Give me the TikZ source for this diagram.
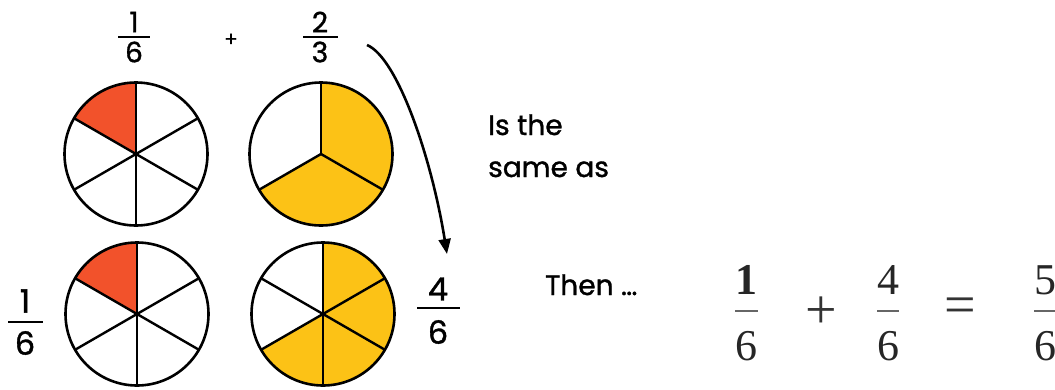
\documentclass[tikz,border=0pt]{standalone}
\usepackage{fontspec}
\setmainfont{Poppins}
\newfontfamily\comicfont{Poppins}[FakeBold=1.2]
\newfontfamily\eqfont{Liberation Serif}
\usetikzlibrary{arrows.meta}
\definecolor{pieRed}{HTML}{F2522B}
\definecolor{pieYel}{HTML}{FCC216}
\newcommand\pieSector[4]{\fill[#1] (#2) -- ++(#3:71.5pt) arc[start angle=#3,end angle=#4,radius=71.5pt] -- cycle;}
\begin{document}
\begin{tikzpicture}[x=1pt,y=-1pt,
  pie/.style={circle,draw=black,line width=2.6pt,minimum size=143pt,inner sep=0pt,outer sep=0pt},
  spoke/.style={line width=2.4pt,line cap=round},
  digS/.style={inner sep=0pt,font=\comicfont\fontsize{28}{30}\selectfont},
  digL/.style={inner sep=0pt,font=\comicfont\fontsize{32}{36}\selectfont},
  digM/.style={inner sep=0pt,font=\eqfont\fontsize{44}{50}\selectfont,text=black!85},
  opM/.style={inner sep=0pt,font=\eqfont\fontsize{56}{60}\selectfont,text=black!80},
  cbar/.style={line width=2.4pt},
  mbar/.style={line width=1.3pt,draw=black!60},
  comic/.style={inner sep=0pt,anchor=base west,font=\comicfont\fontsize{28}{30}\selectfont},
  flow/.style={line width=2.6pt,-{Triangle[length=15pt,width=12pt]}}
]
\useasboundingbox (0,0) rectangle (1055,389);
\fill[white] (0,0) rectangle (1055,389);
% centres
\coordinate (cA) at (136,154);
\coordinate (cB) at (321,154);
\coordinate (cC) at (137,314);
\coordinate (cD) at (323,314);
% sectors
\pieSector{pieRed}{cA}{90}{150}
\pieSector{pieYel}{cB}{-150}{90}
\pieSector{pieRed}{cC}{90}{150}
\pieSector{pieYel}{cD}{-150}{90}
% circles
\node[pie] (pA) at (cA) {};
\node[pie] (pB) at (cB) {};
\node[pie] (pC) at (cC) {};
\node[pie] (pD) at (cD) {};
% spokes
\foreach \a in {30,90,150,210,270,330}{
  \draw[spoke] (pA.center) -- (pA.\a);
  \draw[spoke] (pC.center) -- (pC.\a);
  \draw[spoke] (pD.center) -- (pD.\a);
}
\foreach \a in {90,210,330}{\draw[spoke] (pB.center) -- (pB.\a);}
% top fractions
\node[digS] (t1n) at (134,22) {1};
\node[digS] (t1d) at (134,52) {6};
\draw[cbar] (118,37) -- (150,37);
\node[digS,font=\comicfont\fontsize{20}{22}\selectfont] (tplus) at (231,40) {+};
\node[digS] (t2n) at (320,22) {2};
\node[digS] (t2d) at (320,52) {3};
\draw[cbar] (303,37) -- (338,37);
% lower fractions
\node[digL] (b1n) at (25,301) {1};
\node[digL] (b1d) at (25,343) {6};
\draw[cbar] (8,322) -- (43,322);
\node[digL] (b4n) at (438,289) {4};
\node[digL] (b4d) at (438,332) {6};
\draw[cbar] (417,308) -- (460,308);
% arrow
\coordinate (arS) at (367,45);
\coordinate (arE) at (447,254);
\draw[flow] (arS) .. controls (398,58) and (432,160) .. (arE);
% texts
\node[comic] (is) at (488,135) {Is the};
\node[comic] (same) at (488,177) {same as};
\node[comic] (then) at (545,295) {Then …};
% equation
\node[digM] (e1n) at (746,280) {\bfseries 1};
\node[digM] (e1d) at (746,346) {6};
\draw[mbar] (735,311) -- (758,311);
\node[opM] (eplus) at (821,313) {+};
\node[digM] (e4n) at (888,280) {4};
\node[digM] (e4d) at (888,346) {6};
\draw[mbar] (877,311) -- (899,311);
\node[opM] (eeq) at (960,311) {=};
\node[digM] (e5n) at (1045,280) {5};
\node[digM] (e5d) at (1045,346) {6};
\draw[mbar] (1034,311) -- (1056,311);
\end{tikzpicture}
\end{document}
